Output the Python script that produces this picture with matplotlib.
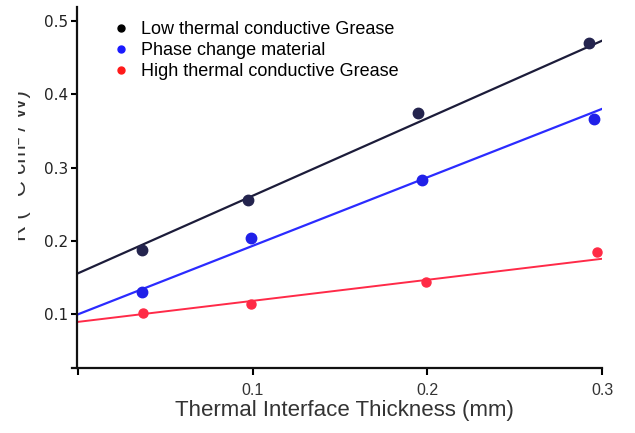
import numpy as np
import matplotlib
matplotlib.use('Agg')
import matplotlib.pyplot as plt
from matplotlib.lines import Line2D
from matplotlib.transforms import Bbox, TransformedBbox

# measured points (thickness in mm, R in C cm2/W)
low_x = [0.0365, 0.0974, 0.1948, 0.2923]
low_r = [0.187, 0.256, 0.374, 0.470]
pcm_x = [0.0365, 0.0986, 0.1970, 0.2957]
pcm_r = [0.1305, 0.204, 0.2834, 0.3664]
high_x = [0.0367, 0.0990, 0.1992, 0.2974]
high_r = [0.1018, 0.1141, 0.1445, 0.1847]

# fitted lines, read at the two ends of the axis
fit_x = [0.0, 0.3]
low_fit = [0.156, 0.473]
pcm_fit = [0.100, 0.380]
high_fit = [0.0895, 0.1755]

labels = ['Low thermal conductive Grease', 'Phase change material',
          'High thermal conductive Grease']
xticks = [0.0, 0.1, 0.2, 0.3]
xticklabels = ['', '0.1', '0.2', '0.3']
yticks = [0.1, 0.2, 0.3, 0.4, 0.5]

plt.rcParams['font.family'] = ['Liberation Sans', 'DejaVu Sans']

fig = plt.figure(figsize=(6.35, 4.33), dpi=100)
ax = fig.add_axes([71.5/635, 65/433, 530.5/635, 361/433])

ax.plot(fit_x, low_fit, color='#1c1c3a', lw=1.6)
ax.plot(fit_x, pcm_fit, color='#2b2bff', lw=1.6)
ax.plot(fit_x, high_fit, color='#ff2a48', lw=1.4)

ax.plot(low_x, low_r, 'o', color='#24244e', ms=7.5)
ax.plot(pcm_x, pcm_r, 'o', color='#2020e8', ms=7.5)
ax.plot(high_x, high_r, 'o', color='#ff2a45', ms=6.5)

ax.set_xlim(-0.004, 0.3)
ax.set_ylim(0.0265, 0.519)

ax.spines['top'].set_visible(False)
ax.spines['right'].set_visible(False)
ax.spines['left'].set_position(('data', -0.001))
for s in ['left', 'bottom']:
    ax.spines[s].set_linewidth(1.6)
    ax.spines[s].set_color('#111111')

ax.set_xticks(xticks)
ax.set_xticklabels(xticklabels)
ax.set_yticks(yticks)
ax.set_yticklabels(['%.1f' % v for v in yticks], family='DejaVu Sans')
ax.tick_params(axis='x', length=5, width=1.5, pad=6, labelsize=11.5,
               labelcolor='#333333')
ax.tick_params(axis='y', length=4, width=1.5, pad=2, labelsize=11,
               labelcolor='#222222')

ax.set_xlabel('Thermal Interface Thickness (mm)', fontsize=16,
              color='#333333', labelpad=0)
ax.xaxis.set_label_coords(0.514, -0.0886)
ax.xaxis.label.set_va('top')

# the y label is cut off at the left edge in the original
ax.set_ylabel('R ( °C cm² / W)', fontsize=16, color='#333333')
ax.yaxis.set_label_coords(-0.076, 0.56)
ylab = ax.yaxis.label
ylab.set_clip_box(TransformedBbox(Bbox([[18/635, 0], [1, 1]]), fig.transFigure))
ylab.set_clip_on(True)

handles = [Line2D([], [], ls='', marker='o', color=c, ms=5)
           for c in ['black', '#1a1aff', '#ff1a1a']]
fig.legend(handles, labels, loc='upper left',
           bbox_to_anchor=(113.3/635, 1 - 21/433), frameon=False,
           fontsize=13, handlelength=0.8, handletextpad=0.75,
           labelspacing=0.22, borderpad=0, borderaxespad=0)

fig.savefig('out.png', dpi=100)
